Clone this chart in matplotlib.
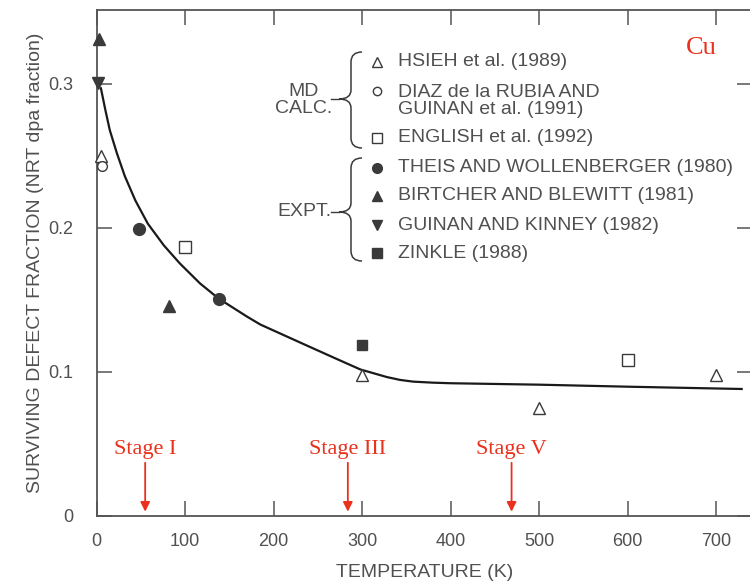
import matplotlib
matplotlib.use("Agg")
import matplotlib.pyplot as plt
from matplotlib.path import Path
from matplotlib.patches import PathPatch
from matplotlib.transforms import Affine2D

plt.rcParams["font.family"] = ["Liberation Sans", "DejaVu Sans"]

# ---- data ----
curve_T = [5, 10, 15, 23, 32, 44, 58, 76, 94, 117, 138, 170, 185, 230, 268,
           298, 328, 343, 358, 380, 400, 500, 600, 729]
curve_y = [0.297, 0.282, 0.268, 0.252, 0.236, 0.219, 0.203, 0.188, 0.1755,
           0.1615, 0.151, 0.1385, 0.133, 0.1205, 0.110, 0.1018, 0.0965,
           0.0945, 0.0933, 0.0926, 0.0922, 0.0912, 0.0898, 0.0882]

hsieh_T, hsieh_y = [5, 300, 500, 700], [0.250, 0.098, 0.075, 0.098]
diaz_T, diaz_y = [6], [0.243]
english_T, english_y = [100, 600], [0.187, 0.108]
theis_T, theis_y = [48, 138], [0.199, 0.151]
birtcher_T, birtcher_y = [3, 82], [0.331, 0.146]
guinan_T, guinan_y = [2], [0.301]
zinkle_T, zinkle_y = [300], [0.119]

stage_labels = ["Stage I", "Stage III", "Stage V"]
stage_T = [55, 284, 469]

md_labels = ["HSIEH et al. (1989)", "DIAZ de la RUBIA AND\nGUINAN et al. (1991)",
             "ENGLISH et al. (1992)"]
expt_labels = ["THEIS AND WOLLENBERGER (1980)", "BIRTCHER AND BLEWITT (1981)",
               "GUINAN AND KINNEY (1982)", "ZINKLE (1988)"]

INK = "#3a3a3a"
GREY = "#505050"
RED = "#e8321e"
W, H = 750, 583

fig = plt.figure(figsize=(W / 100, H / 100), dpi=100)
ax = fig.add_axes([96.5 / W, 67 / H, (752 - 96.5) / W, (516 - 10) / H])
ax.set_xlim(0, (752 - 96.5) / 0.885)
ax.set_ylim(0, (516 - 10) / 1440)

# pixel (top-left origin) -> figure transform for the legend decorations
pix = Affine2D().scale(1 / W, -1 / H).translate(0, 1) + fig.transFigure

series = [
    (hsieh_T, hsieh_y, "^", "white", 8),
    (diaz_T, diaz_y, "o", "white", 7),
    (english_T, english_y, "s", "white", 8.5),
    (theis_T, theis_y, "o", INK, 8.5),
    (birtcher_T, birtcher_y, "^", INK, 8.5),
    (guinan_T, guinan_y, "v", INK, 8.5),
    (zinkle_T, zinkle_y, "s", INK, 7.5),
]

ax.plot(curve_T, curve_y, color="#1a1a1a", lw=1.6, zorder=2,
        solid_joinstyle="round")
for T, y, m, fc, ms in series:
    ax.plot(T, y, ls="none", marker=m, ms=ms, mfc=fc, mec=INK, mew=1.0,
            zorder=3, clip_on=False)

# axes styling
for s in ax.spines.values():
    s.set_color("#555555")
    s.set_linewidth(1.3)
ax.set_xticks(range(0, 800, 100))
ax.set_yticks([0, 0.1, 0.2, 0.3])
ax.set_yticklabels(["0", "0.1", "0.2", "0.3"])
ax.tick_params(axis="x", direction="in", length=11, width=1.1, color="#555555",
               top=True, labelsize=13, labelcolor=GREY, pad=12)
ax.tick_params(axis="y", direction="in", length=11, width=1.1, color="#555555",
               right=True, labelsize=13, labelcolor=GREY, pad=17)
ax.set_xlabel("TEMPERATURE (K)", fontsize=14, color=GREY, labelpad=10)
ax.set_ylabel("SURVIVING DEFECT FRACTION (NRT dpa fraction)", fontsize=14,
              color=GREY, labelpad=3)

# stage annotations
for lab, T in zip(stage_labels, stage_T):
    ax.annotate("", xy=(T, 0.003), xytext=(T, 0.037),
                arrowprops=dict(arrowstyle="-|>", color=RED, lw=1.3,
                                mutation_scale=14, shrinkA=0, shrinkB=0))
    ax.text(T, 0.0462, lab, color=RED, fontsize=16, ha="center", va="center",
            family="Liberation Serif")

fig.text(701 / W, 1 - 48 / H, "Cu", color=RED, fontsize=19, ha="center",
         va="center", family="Liberation Serif")


# legend block
def brace(top, bot, tip_y):
    xs, xm, xt = 362, 351, 339
    verts = [(xs, top), (xm, top), (xm, top + 10),
             (xm, tip_y - 9),
             (xm, tip_y), (xt, tip_y),
             (xm, tip_y), (xm, tip_y + 9),
             (xm, bot - 10),
             (xm, bot), (xs, bot)]
    codes = [Path.MOVETO, Path.CURVE3, Path.CURVE3, Path.LINETO,
             Path.CURVE3, Path.CURVE3, Path.CURVE3, Path.CURVE3,
             Path.LINETO, Path.CURVE3, Path.CURVE3]
    fig.add_artist(PathPatch(Path(verts, codes), fc="none", ec=INK, lw=1.1,
                             transform=pix))
    fig.add_artist(plt.Line2D([331, 339], [tip_y, tip_y], color=INK, lw=1.0,
                              transform=pix))


brace(52, 148, 99)
brace(158, 261, 212)
fig.text(304 / W, 1 - 100 / H, "MD\nCALC.", ha="center", va="center",
         fontsize=14, color=GREY, linespacing=0.95)
fig.text(304 / W, 1 - 211 / H, "EXPT.", ha="center", va="center",
         fontsize=14, color=GREY)

md_rows = [62, 101, 138]
expt_rows = [168, 196, 225, 253]
leg_ms = [7, 6, 7, 7, 7, 7, 6.5]
for (T, y, m, fc, ms), row, lab, lms in zip(series, md_rows + expt_rows,
                                            md_labels + expt_labels, leg_ms):
    first_y = row - 10 if "\n" in lab else row
    fig.add_artist(plt.Line2D([377], [first_y], ls="none", marker=m, ms=lms,
                              mfc=fc, mec=INK, mew=1.0, transform=pix))
    fig.text(398 / W, 1 - row / H, lab, ha="left", va="center", fontsize=14,
             color=GREY, linespacing=1.05)

fig.savefig("out.png", dpi=100, facecolor="white")
